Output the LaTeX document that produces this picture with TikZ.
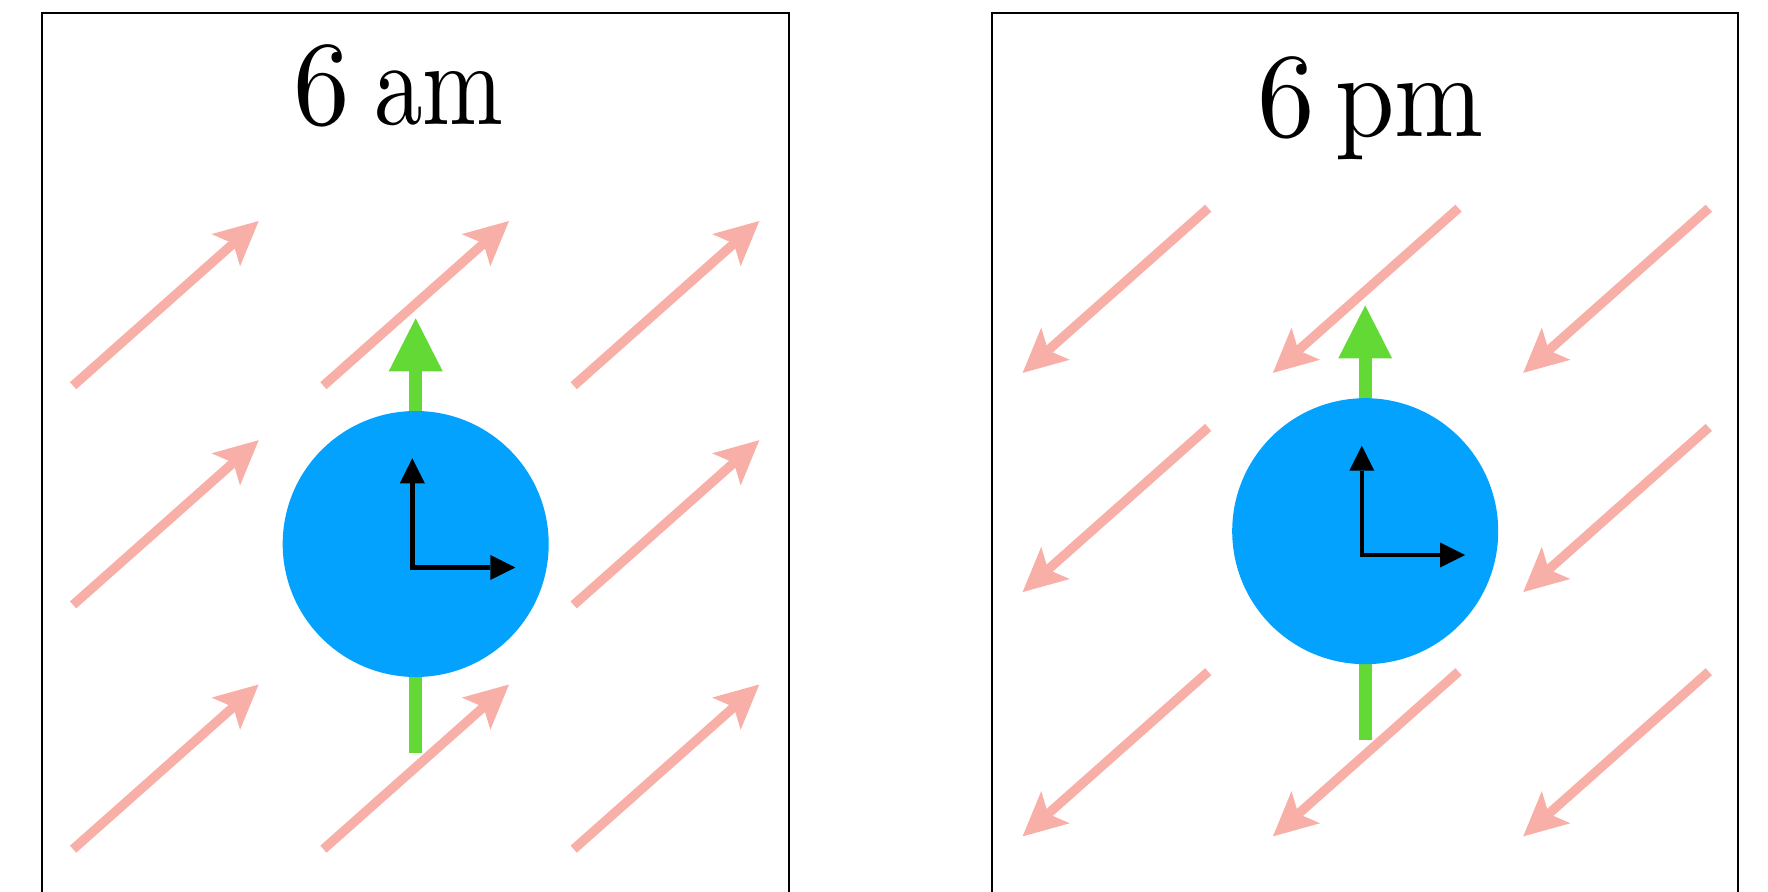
\documentclass[tikz,border=0pt]{standalone}
\usetikzlibrary{arrows.meta}
\definecolor{pinkarrow}{HTML}{F8AFA8}
\definecolor{ballblue}{HTML}{02A2FE}
\definecolor{spingreen}{HTML}{63D935}
\newcommand{\titlepart}[2]{\scalebox{#1}[6]{\fontsize{10}{12}\selectfont #2}}
\begin{document}
\begin{tikzpicture}[x=0.5pt,y=-0.5pt,
  field/.style={pinkarrow, line width=4.7pt,
    -{Stealth[length=22pt,width=21.5pt,inset=5pt,line width=0pt]}},
  spin/.style={spingreen, line width=6.6pt,
    -{Triangle[length=26.5pt,width=27pt,line width=0pt]}},
  axes/.style={black, line width=2.2pt, line join=miter,
    {Triangle[length=12.5pt,width=12.5pt,line width=0pt]}-{Triangle[length=12.5pt,width=12.5pt,line width=0pt]}},
  panel/.style={draw=black, line width=1pt},
  ball/.style={circle, fill=ballblue, minimum size=133pt, inner sep=0pt},
  title/.style={anchor=base west, inner sep=0pt}
]
\useasboundingbox (0,0) rectangle (1768,892);
\clip (0,0) rectangle (1768,892);

% panels
\draw[panel] (42,13.3) rectangle (789.3,1000);
\draw[panel] (991.7,13.3) rectangle (1738.3,1000);

% titles
\node[title] (titleL) at (293.3,125)
  {\titlepart{5.65}{6}\hspace{12pt}\titlepart{4.85}{am}};
\node[title] (titleR) at (1257.3,137)
  {\titlepart{5.75}{6}\hspace{10pt}\titlepart{5.34}{pm}};

% ---------- left panel (6 am) ----------
\begin{scope}[shift={(415.7,544)}]
  \foreach \dx/\dy in {-342.6/-158.3,-92.3/-158.3,158.0/-158.3,
                       -342.6/60.9,158.0/60.9,
                       -342.6/305.2,-92.3/305.2,158.0/305.2}{
    \draw[field] (\dx,\dy) -- ++(185.6,-164.7);
  }
  \coordinate (gbL) at (0,209);
  \coordinate (gtL) at (0,-225.7);
  \draw[spin] (gbL) -- (gtL);
  \node[ball] (ballL) at (0,0) {};
  \coordinate (oL) at (-3.4,23.5);
  \coordinate (uL) at (-3.4,-85.7);
  \coordinate (rL) at (99.6,23.5);
  \draw[axes] (uL) -- (oL) -- (rL);
\end{scope}

% ---------- right panel (6 pm) ----------
\begin{scope}[shift={(1365.2,531.2)}]
  \foreach \dx/\dy in {-342.6/-158.3,-92.3/-158.3,158.0/-158.3,
                       -342.6/60.9,158.0/60.9,
                       -342.6/305.2,-92.3/305.2,158.0/305.2}{
    \draw[field] (\dx+185.6,\dy-164.7) -- (\dx,\dy);
  }
  \coordinate (gbR) at (0,209);
  \coordinate (gtR) at (0,-225.7);
  \draw[spin] (gbR) -- (gtR);
  \node[ball] (ballR) at (0,0) {};
  \coordinate (oR) at (-3.4,23.8);
  \coordinate (uR) at (-3.4,-85.5);
  \coordinate (rR) at (99.8,23.8);
  \draw[axes] (uR) -- (oR) -- (rR);
\end{scope}
\end{tikzpicture}
\end{document}
